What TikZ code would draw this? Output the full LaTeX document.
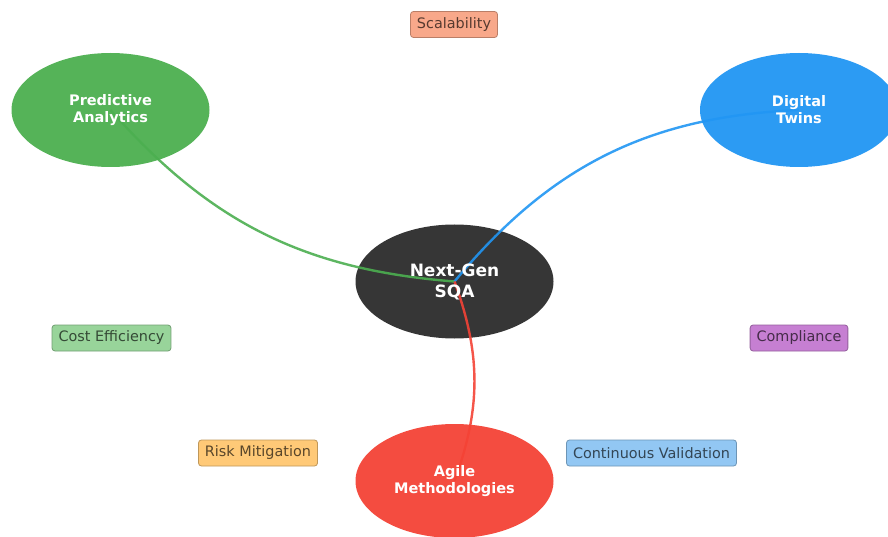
\documentclass[tikz,border=0pt]{standalone}
\usepackage{fontspec}
\setmainfont{DejaVu Sans}
\usetikzlibrary{shapes.geometric}
\definecolor{cgreen}{HTML}{4CAF50}
\definecolor{cblue}{HTML}{2196F3}
\definecolor{cred}{HTML}{F44336}
\definecolor{cdark}{HTML}{363636}
\tikzset{
  mainnode/.style={ellipse, minimum width=198pt, minimum height=114pt, inner sep=0pt,
     text=white, font=\bfseries\fontsize{14.5}{17}\selectfont, align=center},
  tagbox/.style={rounded corners=3pt, draw=#1!75!black, fill=#1, line width=0.8pt,
     minimum height=26pt, inner xsep=6.5pt, font=\fontsize{14.4}{16}\selectfont},
  link/.style={line width=2.4pt, opacity=0.9},
}
\begin{document}
\begin{tikzpicture}[x=1pt,y=-1pt]
\useasboundingbox (0,0) rectangle (888,537);
\fill[white] (0,0) rectangle (888,537);
\node[mainnode, fill=cdark] (core) at (454.5,281.5) {};
\coordinate (predc) at (110.5,110);
\coordinate (twinc) at (799,110);
\coordinate (agilec) at (454.5,481);

\draw[link, cgreen] (core.center) to[bend left=22] (predc);
\draw[link, cblue] (core.center) to[bend left=24] (twinc);
\draw[link, cred] (core.center) to[bend left=20] (agilec);

\node[text=white, font=\bfseries\fontsize{17}{21}\selectfont, align=center] (coretext) at (core.center) {Next-Gen\\SQA};
\node[mainnode, fill=cgreen, fill opacity=0.95, text opacity=1] (pred) at (predc) {Predictive\\Analytics};
\node[mainnode, fill=cblue, fill opacity=0.95, text opacity=1] (twin) at (twinc) {Digital\\Twins};
\node[mainnode, fill=cred, fill opacity=0.95, text opacity=1] (agile) at (agilec) {Agile\\Methodologies};

\definecolor{fscal}{HTML}{F8A88A}
\definecolor{fcost}{HTML}{98D49A}
\definecolor{frisk}{HTML}{FFC977}
\definecolor{fcomp}{HTML}{C67FD2}
\definecolor{fcont}{HTML}{92C7F3}
\node[tagbox=fscal, text=fscal!35!black] (scal) at (454,24.5) {Scalability};
\node[tagbox=fcost, text=fcost!35!black] (cost) at (111.5,338) {Cost Efficiency};
\node[tagbox=frisk, text=frisk!35!black] (risk) at (258,453) {Risk Mitigation};
\node[tagbox=fcomp, text=fcomp!35!black] (comp) at (799,338) {Compliance};
\node[tagbox=fcont, text=fcont!35!black] (cont) at (651.5,453) {Continuous Validation};
\end{tikzpicture}
\end{document}
